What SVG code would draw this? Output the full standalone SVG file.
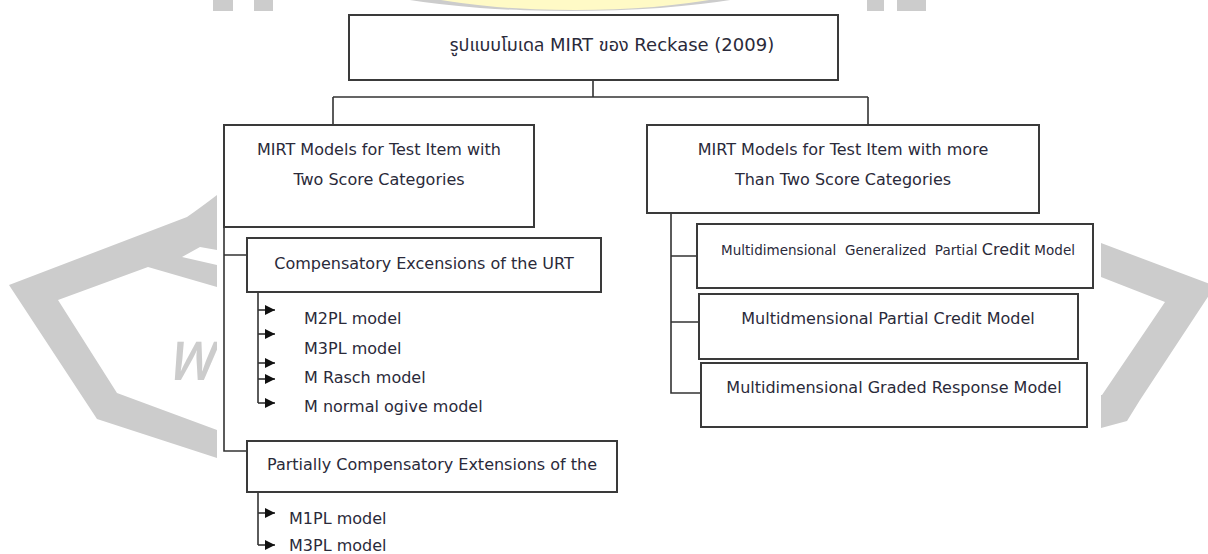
<svg xmlns="http://www.w3.org/2000/svg" width="1208" height="554" viewBox="0 0 1208 554">
  <style>
    .box { fill: #ffffff; stroke: #3a3a3a; stroke-width: 2; }
    .wire { fill: none; stroke: #333333; stroke-width: 1.6; }
    .lbl { font-family: "DejaVu Sans", "Noto Sans Thai", "Noto Sans", sans-serif; font-size: 16px; fill: #2a2a3a; }
    .mid { text-anchor: middle; }
    .wm { fill: #cccccc; }
  </style>
  <defs>
    <marker id="tip" viewBox="0 0 10 10" refX="10" refY="5" markerWidth="10" markerHeight="10" markerUnits="userSpaceOnUse" orient="auto">
      <path d="M0,0 L10,5 L0,10 Z" fill="#111111"/>
    </marker>
  </defs>

  <rect width="1208" height="554" fill="#ffffff"/>

  <!-- background emblem -->
  <g id="emblem">
    <rect class="wm" x="213" y="0" width="20" height="11"/>
    <rect class="wm" x="254" y="0" width="19" height="11"/>
    <rect class="wm" x="867" y="0" width="17" height="11"/>
    <rect class="wm" x="897" y="0" width="29" height="11"/>
    <ellipse cx="570" cy="-30" rx="235" ry="41" fill="#cccccc"/>
    <ellipse cx="575" cy="-31" rx="205" ry="41" fill="#fffac6"/>
    <!-- left arm -->
    <path class="wm" d="M217,195 Q200,208 187,217 L9,285 L97,419 L217,458 L217,430 L117,393 L58,300 L148,267 L217,287 L217,265 L182,257 L200,247 L217,250 Z"/>
    <!-- right arm -->
    <path class="wm" d="M1101,243 L1215,286 L1140,400 L1127,421 L1101,428 L1101,395 L1102,395 L1165,302 L1101,277 Z"/>
    <text x="165" y="380" font-family="DejaVu Sans, Noto Sans Thai, sans-serif" font-size="70" font-style="italic" fill="#cccccc">พ</text>
  </g>

  <!-- white sheet the chart sits on -->
  <rect x="217" y="11" width="884" height="543" fill="#ffffff"/>

  <!-- connectors -->
  <g id="connectors">
    <path class="wire" d="M593,80 V97 M333,97 H868 M333,97 V125 M868,97 V125"/>
    <path class="wire" d="M224,214 V451 H247 M224,255 H247"/>
    <path class="wire" d="M258,292 V403"/>
    <path class="wire" d="M258,310 H275" marker-end="url(#tip)"/>
    <path class="wire" d="M258,334 H275" marker-end="url(#tip)"/>
    <path class="wire" d="M258,363 H275" marker-end="url(#tip)"/>
    <path class="wire" d="M258,379 H275" marker-end="url(#tip)"/>
    <path class="wire" d="M258,403 H275" marker-end="url(#tip)"/>
    <path class="wire" d="M258,492 V545"/>
    <path class="wire" d="M258,513 H275" marker-end="url(#tip)"/>
    <path class="wire" d="M258,545 H275" marker-end="url(#tip)"/>
    <path class="wire" d="M671,213 V393 H701 M671,256 H697 M671,322 H699"/>
  </g>

  <g id="root">
    <rect class="box" x="349" y="15" width="489" height="65"/>
    <text class="lbl mid" x="612" y="51" style="font-size:18px">รูปแบบโมเดล MIRT ของ Reckase (2009)</text>
  </g>

  <g id="two-cat">
    <rect class="box" x="224" y="125" width="310" height="102"/>
    <text class="lbl mid" x="379" y="155">MIRT Models for Test Item with</text>
    <text class="lbl mid" x="379" y="185">Two Score Categories</text>
  </g>

  <g id="compensatory">
    <rect class="box" x="247" y="238" width="354" height="54"/>
    <text class="lbl mid" x="424" y="269">Compensatory Excensions of the URT</text>
    <text class="lbl" x="304" y="324">M2PL model</text>
    <text class="lbl" x="304" y="354">M3PL model</text>
    <text class="lbl" x="304" y="383">M Rasch model</text>
    <text class="lbl" x="304" y="412">M normal ogive model</text>
  </g>

  <g id="partial">
    <rect class="box" x="247" y="441" width="370" height="51"/>
    <text class="lbl mid" x="432" y="470">Partially Compensatory Extensions of the</text>
    <text class="lbl" x="289" y="524">M1PL model</text>
    <text class="lbl" x="289" y="551">M3PL model</text>
  </g>

  <g id="multi-cat">
    <rect class="box" x="647" y="125" width="392" height="88"/>
    <text class="lbl mid" x="843" y="155">MIRT Models for Test Item with more</text>
    <text class="lbl mid" x="843" y="185">Than Two Score Categories</text>
  </g>

  <g id="mgpcm">
    <rect class="box" x="697" y="224" width="396" height="64"/>
    <text class="lbl" x="721" y="255" style="font-size:13.5px" textLength="354" lengthAdjust="spacing" xml:space="preserve">Multidimensional  Generalized  Partial <tspan style="font-size:16px">Credit</tspan> Model</text>
  </g>

  <g id="mpcm">
    <rect class="box" x="699" y="294" width="379" height="65"/>
    <text class="lbl mid" x="888" y="324">Multidmensional Partial Credit Model</text>
  </g>

  <g id="mgrm">
    <rect class="box" x="701" y="363" width="386" height="64"/>
    <text class="lbl mid" x="894" y="393">Multidimensional Graded Response Model</text>
  </g>
</svg>
